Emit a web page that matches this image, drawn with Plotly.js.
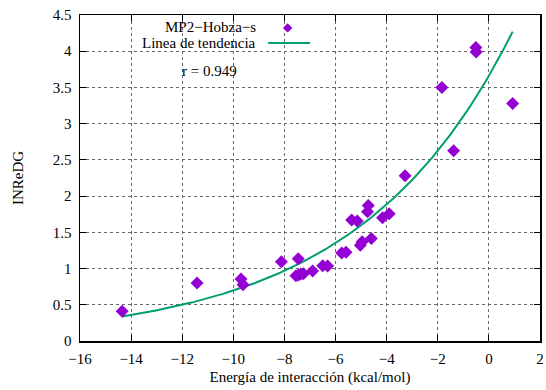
<!DOCTYPE html>
<html>
<head>
<meta charset="utf-8">
<script src="https://cdn.plot.ly/plotly-3.0.1.min.js"></script>
<style>
  html, body { margin: 0; padding: 0; background: #fff; }
  #chart { width: 546px; height: 390px; }
</style>
</head>
<body>
<div id="chart"></div>
<script>
// Interaction energy (kcal/mol) vs INReDG, MP2-Hobza-s set
const energia = [-14.35, -11.42, -9.70, -9.62, -8.12, -7.46, -7.55, -7.45, -7.36, -7.26,
                 -6.90, -6.50, -6.31, -5.76, -5.59, -5.37, -5.15, -5.03, -4.96, -4.75,
                 -4.72, -4.60, -4.16, -3.90, -3.28, -1.84, -1.38, -0.51, -0.50, 0.93];
const inredg  = [0.41, 0.80, 0.855, 0.775, 1.095, 1.135, 0.90, 0.91, 0.925, 0.93,
                 0.965, 1.04, 1.035, 1.215, 1.225, 1.67, 1.655, 1.32, 1.37, 1.785,
                 1.87, 1.415, 1.70, 1.757, 2.28, 3.50, 2.625, 4.05, 3.99, 3.28];

// Exponential trend y = a * exp(b * x)
const ajusteA = 3.66;
const ajusteB = 0.166;
const rTexto = 'r = 0.949';

const xTick = [-16, -14, -12, -10, -8, -6, -4, -2, 0, 2];
const yTick = [0, 0.5, 1, 1.5, 2, 2.5, 3, 3.5, 4, 4.5];
const fmt = v => (v < 0 ? '\u2212' + Math.abs(v) : String(v));

const xMin = Math.min(...energia), xMax = Math.max(...energia);
const tx = [], ty = [];
for (let i = 0; i <= 200; i++) {
  const x = xMin + (xMax - xMin) * i / 200;
  tx.push(x);
  ty.push(ajusteA * Math.exp(ajusteB * x));
}

const violeta = '#9400d3';
const verde = '#009e73';
const serif = 'Liberation Serif, Times New Roman, serif';

const traces = [
  { x: tx, y: ty, type: 'scatter', mode: 'lines', line: { color: verde, width: 2 },
    hoverinfo: 'skip', showlegend: false },
  { x: energia, y: inredg, type: 'scatter', mode: 'markers',
    marker: { symbol: 'diamond', size: 10, color: violeta }, showlegend: false }
];

const axisCommon = {
  showline: true, linecolor: '#000', linewidth: 1.5, mirror: 'ticks',
  ticks: 'inside', ticklen: 6, tickcolor: '#000',
  showgrid: true, gridcolor: '#666', griddash: 'dot', gridwidth: 1,
  zeroline: false,
  tickfont: { family: serif, size: 15, color: '#000' }
};

const layout = {
  width: 546, height: 390,
  margin: { l: 80, r: 6, t: 15, b: 48.5 },
  paper_bgcolor: '#fff', plot_bgcolor: '#fff',
  font: { family: serif, color: '#000' },
  xaxis: Object.assign({}, axisCommon, {
    range: [-16, 2], tickvals: xTick, ticktext: xTick.map(fmt),
    ticklabelstandoff: 3,
    title: { text: 'Energía de interacción (kcal/mol)', font: { family: serif, size: 15 }, standoff: 6 }
  }),
  yaxis: Object.assign({}, axisCommon, {
    range: [0, 4.5], tickvals: yTick, ticktext: yTick.map(String),
    ticklabelstandoff: 4,
    title: { text: 'INReDG', font: { family: serif, size: 15 }, standoff: 25 }
  }),
  shapes: [
    { type: 'line', xref: 'paper', yref: 'paper', x0: 0.409, x1: 0.5, y0: 0.914, y1: 0.914,
      line: { color: verde, width: 2 } }
  ],
  annotations: [
    { xref: 'paper', yref: 'paper', x: 0.387, y: 0.963, xanchor: 'right', yanchor: 'middle',
      text: 'MP2\u2212Hobza\u2212s', showarrow: false, font: { family: serif, size: 15 } },
    { xref: 'paper', yref: 'paper', x: 0.387, y: 0.914, xanchor: 'right', yanchor: 'middle',
      text: 'Linea de tendencia', showarrow: false, font: { family: serif, size: 15 } },
    { xref: 'paper', yref: 'paper', x: 0.452, y: 0.963, xanchor: 'center', yanchor: 'middle',
      text: '\u25c6', showarrow: false, font: { family: 'DejaVu Sans', size: 12, color: violeta } },
    { xref: 'x', yref: 'y', x: -10.95, y: 3.73, xanchor: 'center', yanchor: 'middle',
      text: rTexto, showarrow: false, font: { family: serif, size: 15 } }
  ]
};

Plotly.newPlot('chart', traces, layout, { staticPlot: true, displayModeBar: false });
</script>
</body>
</html>
